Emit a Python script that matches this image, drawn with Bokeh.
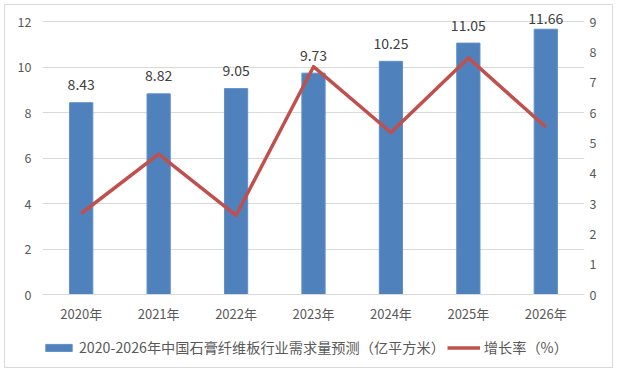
from bokeh.plotting import figure
from bokeh.layouts import column
from bokeh.models import (ColumnDataSource, Range1d, LinearAxis, Legend, LegendItem,
                          LabelSet, FixedTicker)
from bokeh.core.properties import value
from bokeh.embed import file_html
from bokeh.resources import INLINE

years = ["2020年", "2021年", "2022年", "2023年", "2024年", "2025年", "2026年"]
demand = [8.43, 8.82, 9.05, 9.73, 10.25, 11.05, 11.66]
growth = [2.67, 4.63, 2.61, 7.51, 5.34, 7.80, 5.52]
demand_labels = ["8.43", "8.82", "9.05", "9.73", "10.25", "11.05", "11.66"]
left_ticks = [0, 2, 4, 6, 8, 10, 12]
right_ticks = [0, 1, 2, 3, 4, 5, 6, 7, 8, 9]

bar_name = "2020-2026年中国石膏纤维板行业需求量预测（亿平方米）"
line_name = "增长率（%）"

FONT = "Noto Sans CJK SC"
TXT = "#595959"
BAR_FILL = "#4F81BD"
BAR_LINE = "#5f8fc9"
LINE_COLOR = "#C0504D"

PX_PER_UNIT = 273 / 12.0          # frame pixels per left-axis unit
Y_END = 12 + 11 / PX_PER_UNIT     # room above the top gridline for labels
label_y = [min(v + 18 / PX_PER_UNIT, Y_END - 8 / PX_PER_UNIT) for v in demand]

src = ColumnDataSource(dict(x=years, demand=demand, growth=growth,
                            lab=demand_labels, ly=label_y))

p = figure(x_range=years, y_range=Range1d(0, Y_END), width=607, height=323,
           output_backend="svg", toolbar_location=None,
           min_border_left=37, min_border_right=28, min_border_top=5, min_border_bottom=34)
p.outline_line_color = None
p.background_fill_color = "white"
p.border_fill_color = "white"

p.extra_y_ranges = {"rate": Range1d(0, Y_END * 0.75)}

p.vbar(x="x", top="demand", width=0.3, source=src,
       fill_color=BAR_FILL, line_color=BAR_LINE, line_width=1)
p.line(x="x", y="growth", source=src, y_range_name="rate",
       line_color=LINE_COLOR, line_width=3.5, line_join="round")

labels = LabelSet(x="x", y="ly", text="lab", source=src, text_align="center",
                  text_baseline="middle", text_font_size="14px",
                  text_color="#404040", text_font=value(FONT))
p.add_layout(labels)

# axes
p.yaxis.ticker = FixedTicker(ticks=left_ticks)
p.yaxis.axis_line_color = None
p.yaxis.major_tick_line_color = None
p.yaxis.minor_tick_line_color = None
p.yaxis.major_tick_out = 0
p.yaxis.major_label_text_font = FONT
p.yaxis.major_label_text_font_size = "12.5px"
p.yaxis.major_label_text_color = TXT
p.yaxis.major_label_standoff = 11

right = LinearAxis(y_range_name="rate", ticker=FixedTicker(ticks=right_ticks))
right.axis_line_color = None
right.major_tick_line_color = None
right.minor_tick_line_color = None
right.major_tick_out = 0
right.major_label_text_font = FONT
right.major_label_text_font_size = "12.5px"
right.major_label_text_color = TXT
right.major_label_standoff = 5
p.add_layout(right, "right")

p.xaxis.axis_line_color = "#d9d9d9"
p.xaxis.major_tick_line_color = None
p.xaxis.minor_tick_line_color = None
p.xaxis.major_tick_out = 0
p.xaxis.major_label_text_font = FONT
p.xaxis.major_label_text_font_size = "13px"
p.xaxis.major_label_text_color = TXT
p.xaxis.major_label_standoff = 9

p.xgrid.grid_line_color = None
p.ygrid.grid_line_color = "#d9d9d9"
p.ygrid.ticker = FixedTicker(ticks=left_ticks)

# legend strip (separate small figure so the legend sits below the axis)
lf = figure(width=607, height=39, x_range=Range1d(0, 1), y_range=Range1d(0, 1),
            output_backend="svg", toolbar_location=None,
            x_axis_location=None, y_axis_location=None,
            min_border_left=0, min_border_right=0, min_border_top=0, min_border_bottom=0)
lf.outline_line_color = None
lf.grid.grid_line_color = None
lf.background_fill_color = "white"
lf.border_fill_color = "white"
# legend-only renderers: one point placed outside the visible range
lsrc = ColumnDataSource(dict(x=[-10], top=[-10], y=[-10]))
lb = lf.vbar(x="x", top="top", width=0.3, source=lsrc,
             fill_color=BAR_FILL, line_color=BAR_LINE, line_width=1)
ll = lf.line(x="x", y="y", source=lsrc, line_color=LINE_COLOR, line_width=3.5)

legend = Legend(items=[LegendItem(label=bar_name, renderers=[lb]),
                       LegendItem(label=line_name, renderers=[ll])],
                orientation="horizontal", location=(0, 10),
                glyph_width=33, glyph_height=9, label_standoff=4, spacing=2,
                label_height=20, padding=0, margin=0,
                border_line_color=None, background_fill_alpha=0,
                label_text_font=FONT, label_text_font_size="14.2px", label_text_color=TXT)
lf.add_layout(legend, "center")

layout = column(p, lf, spacing=0, margin=4,
                styles={"border": "1px solid #d9d9d9"})

open("out.html", "w").write(file_html(layout, INLINE))
